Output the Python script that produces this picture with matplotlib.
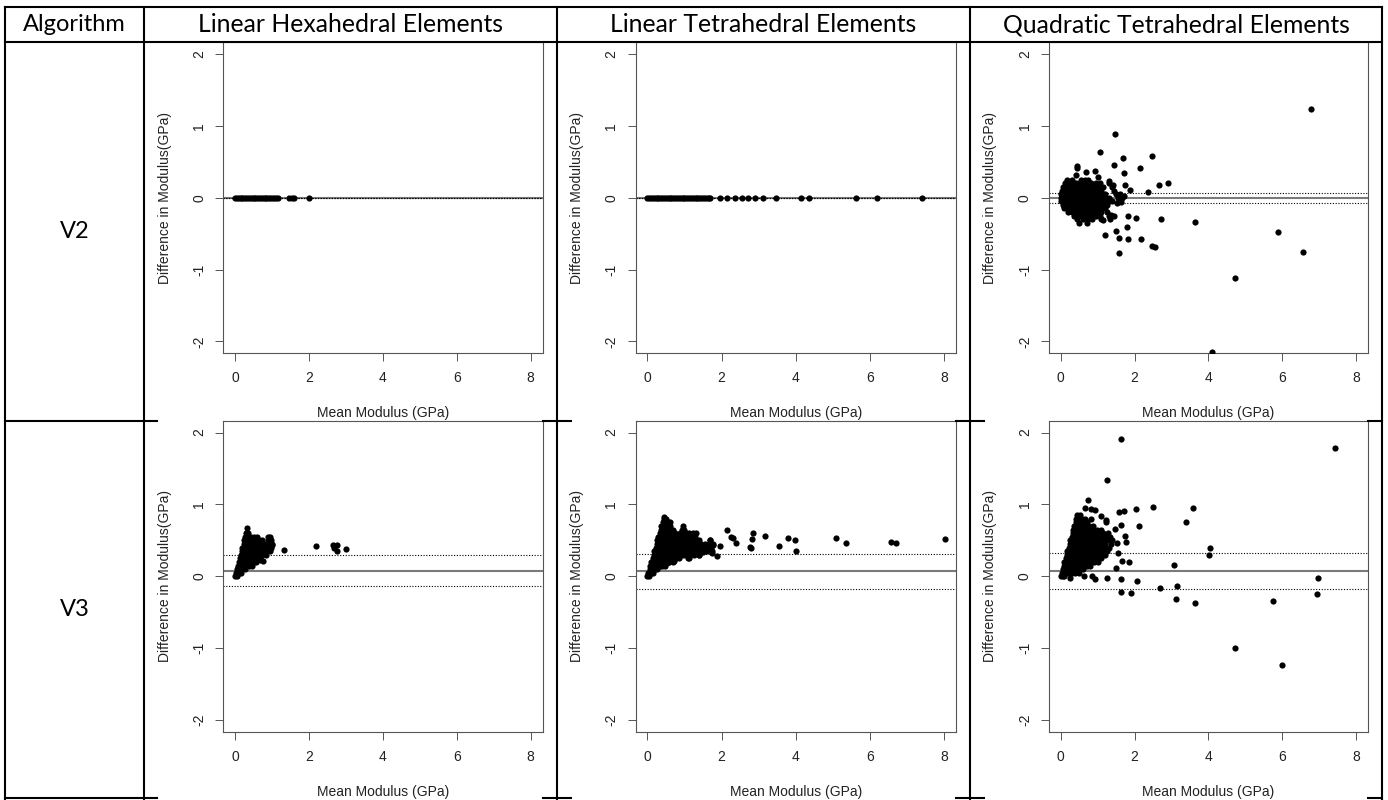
import matplotlib
matplotlib.use('Agg')
import matplotlib.pyplot as plt
from matplotlib.lines import Line2D

plt.rcParams['font.family'] = ['Liberation Sans', 'DejaVu Sans']
plt.rcParams['axes.unicode_minus'] = False

W, H = 1388, 800

##################################################################################################

# Data

header_first = 'Algorithm'
columns = ['Linear Hexahedral Elements', 'Linear Tetrahedral Elements', 'Quadratic Tetrahedral Elements']
algorithms = ['V2', 'V3']
x_label = 'Mean Modulus (GPa)'
y_label = 'Difference in Modulus(GPa)'
x_ticks = [0, 2, 4, 6, 8]
y_ticks = [-2, -1, 0, 1, 2]

# bias (solid) and limits of agreement (dotted): mean, upper, lower
hex_v2_lines = [0.0, 0.0, 0.0]
tet_v2_lines = [0.0, 0.0, 0.0]
quad_v2_lines = [-0.005, 0.07, -0.078]
hex_v3_lines = [0.078, 0.296, -0.134]
tet_v3_lines = [0.075, 0.315, -0.17]
quad_v3_lines = [0.074, 0.324, -0.176]

# V2 linear elements: all differences are zero
hex_v2_x = [0.0, 0.05, 0.1, 0.15, 0.2, 0.25, 0.3, 0.35, 0.4, 0.45, 0.5, 0.55, 0.6, 0.65, 0.7,
            0.75, 0.8, 0.85, 0.9, 0.95, 1.0, 1.05, 1.1, 1.15, 1.46, 1.53, 1.6, 2.01]
tet_v2_x = [0.0, 0.05, 0.1, 0.15, 0.2, 0.25, 0.3, 0.35, 0.4, 0.45, 0.5, 0.55, 0.6, 0.65, 0.7,
            0.75, 0.8, 0.85, 0.9, 0.95, 1.0, 1.05, 1.1, 1.15, 1.2, 1.25, 1.3, 1.35, 1.4, 1.45,
            1.5, 1.55, 1.6, 1.65, 1.7, 1.96, 2.15, 2.36, 2.55, 2.72, 2.91, 3.12, 3.48, 4.15,
            4.36, 5.64, 6.2, 7.41]

# dense clouds, written as (difference, [mean values]) rows
quad_v2_rows = [
    (0.25, [0.18, 0.3, 0.55, 0.65, 0.75]),
    (0.20, [0.12, 0.22, 0.32, 0.42, 0.52, 0.62, 0.72, 0.82, 0.95, 1.05, 1.3]),
    (0.15, [0.05, 0.15, 0.25, 0.35, 0.45, 0.55, 0.65, 0.75, 0.85, 0.95, 1.05, 1.15, 1.4]),
    (0.10, [0.02, 0.1, 0.2, 0.3, 0.4, 0.5, 0.6, 0.7, 0.8, 0.9, 1.0, 1.1, 1.45]),
    (0.05, [0.0, 0.1, 0.2, 0.3, 0.4, 0.5, 0.6, 0.7, 0.8, 0.9, 1.0, 1.1, 1.2, 1.5, 1.6]),
    (0.00, [0.0, 0.1, 0.2, 0.3, 0.4, 0.5, 0.6, 0.7, 0.8, 0.9, 1.0, 1.1, 1.2, 1.3, 1.55, 1.65]),
    (-0.05, [0.0, 0.1, 0.2, 0.3, 0.4, 0.5, 0.6, 0.7, 0.8, 0.9, 1.0, 1.1, 1.2, 1.3, 1.4]),
    (-0.10, [0.05, 0.15, 0.25, 0.35, 0.45, 0.55, 0.65, 0.75, 0.85, 0.95, 1.05, 1.15, 1.25]),
    (-0.15, [0.1, 0.2, 0.3, 0.4, 0.5, 0.6, 0.7, 0.8, 0.9, 1.0, 1.1, 1.2]),
    (-0.20, [0.2, 0.3, 0.4, 0.5, 0.6, 0.7, 0.8, 0.9, 1.0, 1.1, 1.25]),
    (-0.25, [0.35, 0.45, 0.55, 0.65, 0.75, 0.85, 0.95, 1.05, 1.3]),
    (-0.30, [0.45, 0.6, 0.75, 0.85, 1.1]),
    (-0.35, [0.48, 0.7]),
]
quad_v2_extra = [(6.78, 1.24), (1.47, 0.88), (1.07, 0.63), (1.68, 0.55), (2.47, 0.58), (1.43, 0.45),
                 (0.45, 0.44), (0.45, 0.42), (2.14, 0.41), (0.93, 0.37), (0.69, 0.36), (1.71, 0.35),
                 (0.40, 0.32), (2.90, 0.21), (2.67, 0.17), (1.74, 0.17), (1.88, 0.11), (2.36, 0.08),
                 (1.52, -0.07), (1.81, -0.25), (2.03, -0.28), (2.71, -0.30), (3.64, -0.34),
                 (1.79, -0.41), (1.49, -0.47), (1.20, -0.52), (1.59, -0.56), (1.83, -0.58),
                 (2.18, -0.58), (5.89, -0.48), (2.47, -0.67), (2.54, -0.69), (6.56, -0.75),
                 (1.57, -0.77), (4.71, -1.11), (4.11, -2.15), (1.02, 0.29), (1.31, 0.23),
                 (1.41, 0.17), (1.70, 0.03), (1.63, -0.06), (1.36, -0.24), (1.14, -0.31),
                 (1.33, -0.29), (1.43, -0.26)]

hex_v3_rows = [
    (0.00, [0.0, 0.04]),
    (0.05, [0.03, 0.1, 0.16]),
    (0.10, [0.05, 0.12, 0.2, 0.28]),
    (0.15, [0.08, 0.15, 0.23, 0.31, 0.39, 0.46]),
    (0.20, [0.1, 0.18, 0.26, 0.34, 0.42, 0.5, 0.58]),
    (0.25, [0.13, 0.2, 0.28, 0.36, 0.44, 0.52, 0.6, 0.68]),
    (0.30, [0.15, 0.23, 0.31, 0.39, 0.47, 0.55, 0.63, 0.73, 0.84]),
    (0.35, [0.18, 0.25, 0.33, 0.41, 0.49, 0.57, 0.65, 0.75, 0.85, 0.94]),
    (0.40, [0.2, 0.27, 0.35, 0.43, 0.51, 0.59, 0.67, 0.77, 0.87, 0.97]),
    (0.45, [0.23, 0.3, 0.38, 0.46, 0.54, 0.62, 0.72, 0.82, 0.92, 1.0]),
    (0.50, [0.25, 0.32, 0.4, 0.48, 0.56, 0.64, 0.74, 0.88, 0.97]),
    (0.55, [0.28, 0.35, 0.43, 0.51, 0.6, 0.88, 0.95]),
    (0.60, [0.3, 0.36]),
]
hex_v3_extra = [(0.33, 0.67), (0.68, 0.23), (0.75, 0.22), (0.72, 0.31), (0.99, 0.44), (1.33, 0.37),
                (2.2, 0.42), (2.64, 0.43), (2.77, 0.43), (2.69, 0.39), (2.76, 0.35), (2.99, 0.38)]

tet_v3_rows = [
    (0.00, [0.0, 0.04]),
    (0.05, [0.03, 0.1, 0.16]),
    (0.10, [0.06, 0.13, 0.2, 0.27]),
    (0.15, [0.08, 0.16, 0.24, 0.32, 0.4, 0.47]),
    (0.20, [0.11, 0.19, 0.27, 0.35, 0.43, 0.51, 0.59, 0.68]),
    (0.25, [0.14, 0.22, 0.3, 0.38, 0.46, 0.54, 0.62, 0.7, 0.78, 0.86, 1.1]),
    (0.30, [0.17, 0.25, 0.33, 0.41, 0.49, 0.57, 0.65, 0.73, 0.81, 0.89, 0.97, 1.05, 1.15, 1.25, 1.4]),
    (0.35, [0.19, 0.27, 0.35, 0.43, 0.51, 0.59, 0.67, 0.75, 0.83, 0.91, 0.99, 1.07, 1.15, 1.23,
            1.31, 1.4, 1.5, 1.62]),
    (0.40, [0.22, 0.3, 0.38, 0.46, 0.54, 0.62, 0.7, 0.78, 0.86, 0.94, 1.02, 1.1, 1.18, 1.26,
            1.34, 1.42, 1.5, 1.6, 1.72]),
    (0.45, [0.25, 0.33, 0.41, 0.49, 0.57, 0.65, 0.73, 0.81, 0.89, 0.97, 1.05, 1.13, 1.21, 1.29,
            1.37, 1.45, 1.55, 1.67, 1.78]),
    (0.50, [0.27, 0.35, 0.43, 0.51, 0.59, 0.67, 0.75, 0.83, 0.91, 0.99, 1.07, 1.15, 1.23, 1.31,
            1.4, 1.7]),
    (0.55, [0.3, 0.38, 0.46, 0.54, 0.62, 0.7, 0.78, 0.86, 0.94, 1.02, 1.1, 1.18, 1.28]),
    (0.60, [0.33, 0.41, 0.49, 0.57, 0.65, 0.75, 0.88, 0.96, 1.04, 1.12, 1.22, 1.31]),
    (0.65, [0.36, 0.43, 0.51, 0.59, 0.7, 0.93, 1.0]),
    (0.70, [0.38, 0.45, 0.53, 0.62, 0.95]),
    (0.75, [0.41, 0.48, 0.57]),
    (0.80, [0.44, 0.5]),
]
tet_v3_extra = [(0.45, 0.82), (0.61, 0.76), (0.73, 0.22), (0.95, 0.31), (1.11, 0.25), (1.40, 0.29),
                (1.74, 0.35), (1.89, 0.28), (1.96, 0.42), (2.14, 0.64), (2.26, 0.55), (2.32, 0.53),
                (2.39, 0.47), (2.77, 0.41), (2.80, 0.39), (2.82, 0.52), (2.84, 0.60), (3.16, 0.56),
                (3.55, 0.42), (3.80, 0.53), (3.99, 0.50), (4.00, 0.35), (5.09, 0.53), (5.35, 0.46),
                (6.57, 0.48), (6.71, 0.47), (8.04, 0.52), (1.69, 0.50), (1.78, 0.44), (1.63, 0.38),
                (1.75, 0.33), (1.49, 0.34), (0.52, 0.19), (0.34, 0.14)]

quad_v3_rows = [
    (0.00, [0.0, 0.05, 0.1]),
    (0.05, [0.03, 0.1, 0.17, 0.24, 0.31, 0.38, 0.5]),
    (0.10, [0.05, 0.12, 0.2, 0.28, 0.36, 0.44, 0.52, 0.6]),
    (0.15, [0.08, 0.16, 0.24, 0.32, 0.4, 0.48, 0.56, 0.64, 0.72, 0.8]),
    (0.20, [0.1, 0.18, 0.26, 0.34, 0.42, 0.5, 0.58, 0.66, 0.74, 0.82, 0.9, 1.0]),
    (0.25, [0.13, 0.21, 0.29, 0.37, 0.45, 0.53, 0.61, 0.69, 0.77, 0.85, 0.93, 1.01, 1.1]),
    (0.30, [0.16, 0.24, 0.32, 0.4, 0.48, 0.56, 0.64, 0.72, 0.8, 0.88, 0.96, 1.04, 1.12, 1.2]),
    (0.35, [0.18, 0.26, 0.34, 0.42, 0.5, 0.58, 0.66, 0.74, 0.82, 0.9, 0.98, 1.06, 1.14, 1.25]),
    (0.40, [0.21, 0.29, 0.37, 0.45, 0.53, 0.61, 0.69, 0.77, 0.85, 0.93, 1.01, 1.09, 1.17, 1.3]),
    (0.45, [0.24, 0.32, 0.4, 0.48, 0.56, 0.64, 0.72, 0.8, 0.88, 0.96, 1.04, 1.12, 1.2, 1.35]),
    (0.50, [0.26, 0.34, 0.42, 0.5, 0.58, 0.66, 0.74, 0.82, 0.9, 0.98, 1.06, 1.14, 1.25, 1.4]),
    (0.55, [0.29, 0.37, 0.45, 0.53, 0.61, 0.69, 0.77, 0.85, 0.93, 1.01, 1.1, 1.2, 1.33]),
    (0.60, [0.32, 0.4, 0.48, 0.56, 0.64, 0.72, 0.8, 0.88, 0.96, 1.05, 1.15, 1.28]),
    (0.65, [0.34, 0.42, 0.5, 0.58, 0.66, 0.74, 0.82, 0.9, 0.98, 1.1]),
    (0.70, [0.37, 0.45, 0.53, 0.61, 0.69, 0.77, 0.88]),
    (0.75, [0.4, 0.48, 0.56, 0.64, 0.72]),
    (0.80, [0.42, 0.5, 0.58, 0.66, 0.82]),
    (0.85, [0.45, 0.53]),
]
quad_v3_extra = [(1.63, 1.91), (7.42, 1.78), (1.24, 1.34), (0.73, 1.06), (2.51, 0.97), (3.58, 0.95),
                 (0.66, 0.95), (0.82, 0.94), (0.93, 0.92), (2.03, 0.93), (1.70, 0.91), (1.58, 0.89),
                 (3.40, 0.75), (2.11, 0.70), (1.63, 0.71), (1.09, 0.84), (1.22, 0.79), (1.22, 0.75),
                 (1.48, 0.66), (1.74, 0.56), (1.78, 0.48), (1.52, 0.46), (4.04, 0.39), (4.02, 0.29),
                 (1.56, 0.32), (3.08, 0.16), (1.85, 0.20), (1.67, 0.21), (1.49, 0.12), (1.63, -0.04),
                 (1.24, -0.02), (0.93, -0.03), (0.84, 0.0), (0.64, 0.0), (0.26, -0.02), (2.06, -0.07),
                 (6.97, -0.02), (3.16, -0.13), (2.70, -0.16), (1.64, -0.22), (1.91, -0.23),
                 (6.93, -0.24), (3.12, -0.31), (5.75, -0.34), (3.63, -0.37), (4.71, -1.00),
                 (5.99, -1.23)]

##################################################################################################

def cloud(rows, extra):
    xs, ys = [], []
    for y, row in rows:
        xs += row
        ys += [y] * len(row)
    xs += [p[0] for p in extra]
    ys += [p[1] for p in extra]
    return xs, ys

panels = [
    [(hex_v2_x, [0.0] * len(hex_v2_x), hex_v2_lines),
     (tet_v2_x, [0.0] * len(tet_v2_x), tet_v2_lines),
     (*cloud(quad_v2_rows, quad_v2_extra), quad_v2_lines)],
    [(*cloud(hex_v3_rows, hex_v3_extra), hex_v3_lines),
     (*cloud(tet_v3_rows, tet_v3_extra), tet_v3_lines),
     (*cloud(quad_v3_rows, quad_v3_extra), quad_v3_lines)],
]

# layout in pixels (top-left origin)
table_left, table_right, table_top, table_bottom = 5, 1382, 7, 798
header_line = 42
row_line = 421
col_lines = [144, 557, 970]
img_left = [157, 571, 984]
box_left = [223.2, 635.5, 1049.0]
box_right = [542.5, 955.8, 1367.8]
box_top = [42.4, 421.0]
box_bottom = [353.0, 731.7]

fig = plt.figure(figsize=(W / 100, H / 100), dpi=100)

def fx(px):
    return px / W

def fy(py):
    return 1 - py / H

def hline(y, x0, x1):
    fig.lines.append(Line2D([fx(x0), fx(x1)], [fy(y), fy(y)], transform=fig.transFigure,
                            color='black', lw=1.5, zorder=5))

def vline(x, y0, y1):
    fig.lines.append(Line2D([fx(x), fx(x)], [fy(y0), fy(y1)], transform=fig.transFigure,
                            color='black', lw=1.5, zorder=5))

# table rules
hline(table_top, table_left, table_right)
hline(header_line, table_left, table_right)
for y in [row_line, table_bottom]:
    segs = [table_left] + [v for c in range(3) for v in (img_left[c], box_right[c])] + [table_right]
    for k in range(0, len(segs), 2):
        hline(y, segs[k], segs[k + 1])
for x in [table_left] + col_lines + [table_right]:
    vline(x, table_top, table_bottom + 1)

# headers
head_font = dict(family=['Lato', 'DejaVu Sans'], ha='center', va='center')
fig.text(fx((table_left + col_lines[0]) / 2), fy((table_top + header_line) / 2), header_first,
         fontsize=17, **head_font)
col_edges = col_lines + [table_right]
for c, name in enumerate(columns):
    fig.text(fx((col_edges[c] + col_edges[c + 1]) / 2), fy((table_top + header_line) / 2), name,
             fontsize=17.8, **head_font)
row_edges = [header_line, row_line, table_bottom]
for r, name in enumerate(algorithms):
    fig.text(fx((table_left + col_lines[0]) / 2), fy((row_edges[r] + row_edges[r + 1]) / 2), name,
             fontsize=17, **head_font)

# Bland-Altman panels
for r in range(2):
    for c in range(3):
        xs, ys, lines = panels[r][c]
        l, rr, t, b = box_left[c], box_right[c], box_top[r], box_bottom[r]
        ax = fig.add_axes([fx(l), fy(b), (rr - l) / W, (b - t) / H])
        ax.scatter(xs, ys, s=20, color='black', linewidths=0, zorder=3)
        ax.axhline(lines[0], color='#7a7a7a', lw=1.5, zorder=2)
        for v in lines[1:]:
            ax.axhline(v, color='black', lw=0.8, ls=(0, (1, 1.5)), zorder=2)
        ax.set_xlim(-0.32, 8.32)
        ax.set_ylim(-2.16, 2.16)
        ax.set_xticks(x_ticks)
        ax.set_yticks(y_ticks)
        for sp in ax.spines.values():
            sp.set_color('#555555')
            sp.set_linewidth(0.8)
        ax.tick_params(direction='out', length=5.8, width=0.7, color='#555555',
                       labelcolor='#222222', labelsize=10)
        ax.tick_params(axis='x', pad=7.5)
        ax.tick_params(axis='y', pad=6.5, labelrotation=90)
        for lab in ax.get_yticklabels():
            lab.set_va('center')
        fig.text(fx(l - 58.5), fy((t + b) / 2), y_label, rotation=90, ha='center', va='center',
                 fontsize=10, color='#222222')
        fig.text(fx((l + rr) / 2), fy(b + 60), x_label, ha='center', va='center',
                 fontsize=10, color='#222222')

fig.savefig('out.png', dpi=100)
